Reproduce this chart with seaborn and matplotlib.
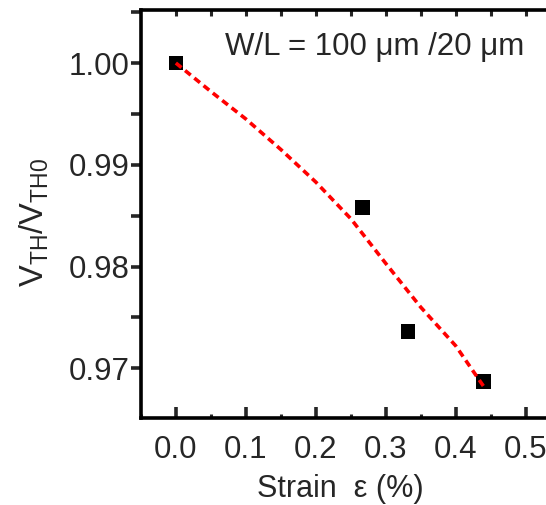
import numpy as np
import pandas as pd
import matplotlib
matplotlib.use("Agg")
import matplotlib.pyplot as plt
from matplotlib.ticker import MultipleLocator
import seaborn as sns

# measured points
strain = [0.0, 0.267, 0.332, 0.44]
vth_ratio = [1.000, 0.9858, 0.9736, 0.9687]

# red dashed fit curve
fit_strain = [0.0, 0.05, 0.10, 0.15, 0.20, 0.25, 0.30, 0.35, 0.40, 0.44]
fit_ratio = [1.000, 0.9972, 0.9945, 0.9915, 0.9883, 0.9847, 0.9803, 0.9760, 0.9722, 0.9682]

x_ticks = [0.0, 0.1, 0.2, 0.3, 0.4, 0.5]
y_ticks = [0.97, 0.98, 0.99, 1.00]

df_pts = pd.DataFrame({"strain": strain, "ratio": vth_ratio})
df_fit = pd.DataFrame({"strain": fit_strain, "ratio": fit_ratio})

sns.set_style("ticks")
plt.rcParams['font.family'] = ['Liberation Sans', 'DejaVu Sans']
plt.rcParams['mathtext.fontset'] = 'custom'
plt.rcParams['mathtext.rm'] = 'Liberation Sans'

fig = plt.figure(figsize=(5.46, 5.05), dpi=100)
ax = fig.add_axes([0.258, 0.172, 0.769, 0.808])

sns.lineplot(data=df_fit, x="strain", y="ratio", ax=ax, color="#ff0000",
             lw=2.6, linestyle=(0, (2.0, 1.3)), zorder=3)
sns.scatterplot(data=df_pts, x="strain", y="ratio", ax=ax, marker="s",
                color="black", s=110, edgecolor="none", zorder=2)

ax.set_xlim(-0.05, 0.55)
ax.set_ylim(0.9651, 1.0052)
ax.set_xticks(x_ticks)
ax.set_xticklabels([f"{v:.1f}" for v in x_ticks])
ax.set_yticks(y_ticks)
ax.set_yticklabels([f"{v:.2f}" for v in y_ticks])
ax.xaxis.set_minor_locator(MultipleLocator(0.05))
ax.yaxis.set_minor_locator(MultipleLocator(0.005))

for s in ax.spines.values():
    s.set_linewidth(2.6)
    s.set_color("black")

ax.tick_params(axis='x', which='major', direction='in', length=8, width=2.6,
               labelsize=22.5, pad=12, top=False)
ax.tick_params(axis='x', which='minor', direction='in', length=3, width=2.2, top=False)
ax.tick_params(axis='y', which='major', direction='out', length=7, width=2.6,
               labelsize=22.5, pad=1)
ax.tick_params(axis='y', which='minor', direction='out', length=7, width=2.6)

top = ax.secondary_xaxis('top')
top.set_xticks(np.arange(0.0, 0.551, 0.05))
top.tick_params(direction='in', length=4, width=2.2, labeltop=False)

ax.set_xlabel("Strain  ε (%)", fontsize=22)
ax.xaxis.set_label_coords(0.474, -0.136)
ax.set_ylabel(r"$\mathregular{V_{TH}/V_{TH0}}$", fontsize=23.5)
ax.yaxis.set_label_coords(-0.215, 0.48)

ax.text(0.07, 1.0016, "W/L = 100 μm /20 μm", fontsize=22.5, va="center", ha="left")

fig.savefig("out.png", dpi=100)
